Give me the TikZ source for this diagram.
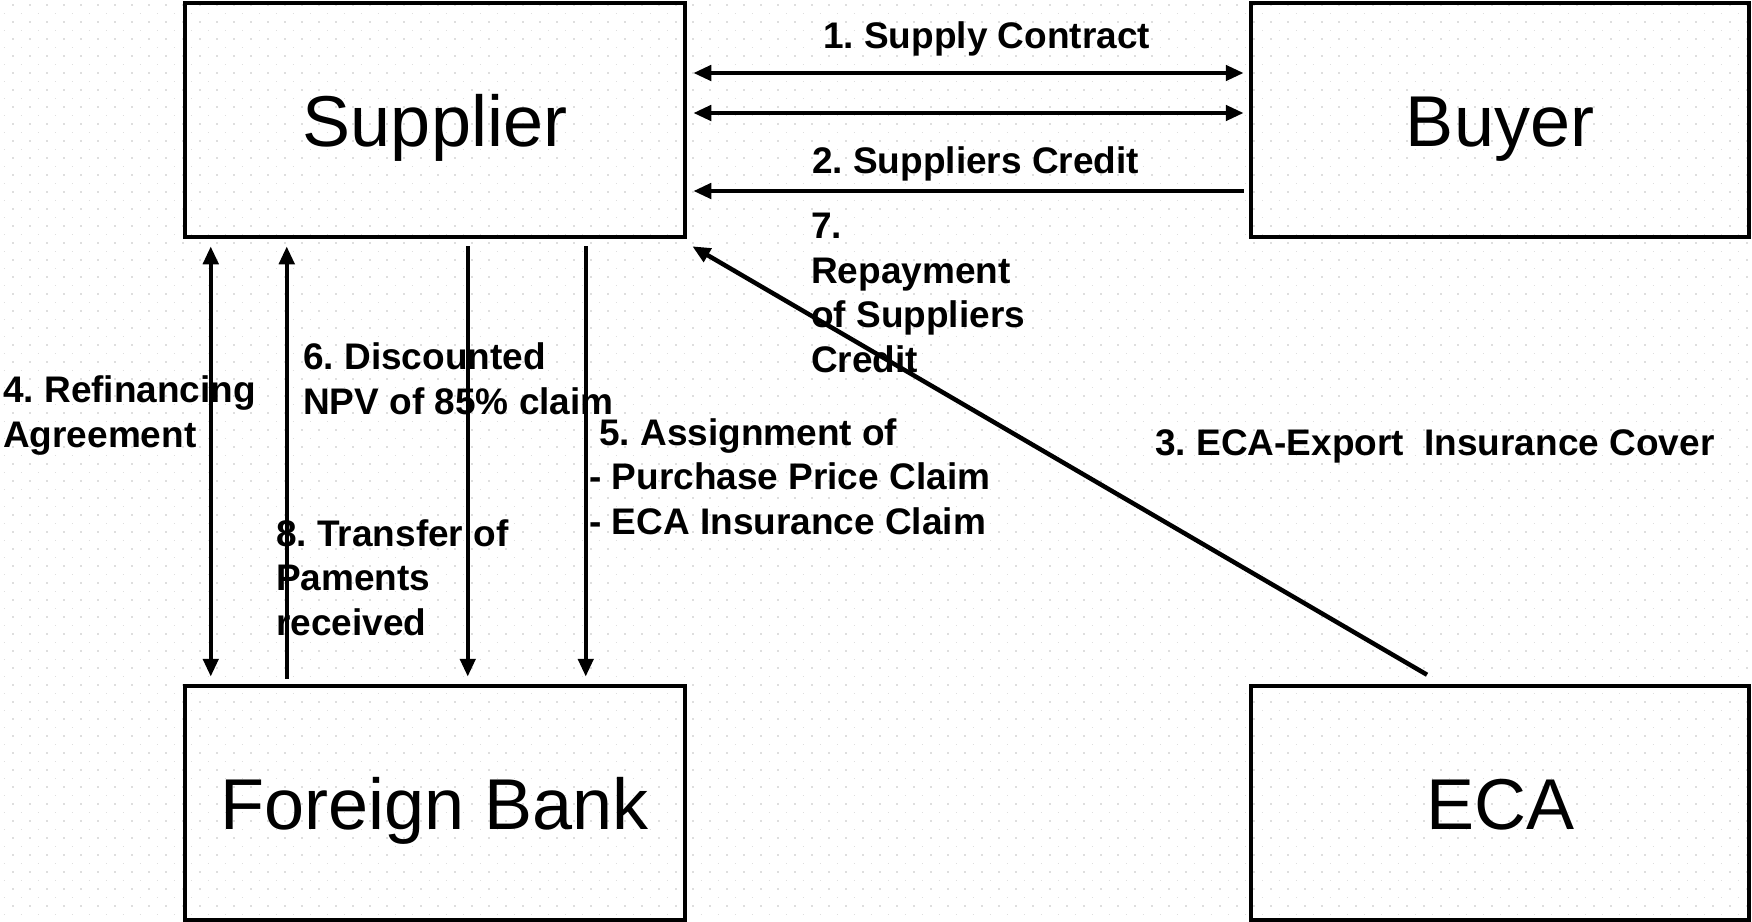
\documentclass[tikz,border=0pt]{standalone}
\usepackage{fontspec}
\setmainfont{Liberation Sans}
\usetikzlibrary{arrows.meta}
\frenchspacing
\begin{document}
\begin{tikzpicture}[x=1pt,y=-1pt,
  box/.style={draw, line width=4.5pt, minimum width=500pt, minimum height=234pt, inner sep=0pt, text height=53pt, text depth=0pt, font=\fontsize{72}{86}\selectfont},
  conn/.style={line width=4.5pt, -{Triangle[length=18pt,width=15pt]}},
  conntwo/.style={line width=4.5pt, {Triangle[length=18pt,width=15pt]}-{Triangle[length=18pt,width=15pt]}},
  lbl/.style={anchor=base west, inner sep=0pt, align=left, font=\bfseries\fontsize{37}{44.5}\selectfont},
  dotrow/.style={black!13, line width=1.6pt, dash pattern=on 1.6pt off 15.4pt}]
\useasboundingbox (0,0) rectangle (1752,921);
% faint dotted background
\foreach \k in {0,...,108}{
  \pgfmathsetmacro\yy{5+8.5*\k}
  \ifodd\k
    \draw[dotrow] (3.5,\yy) -- (1752,\yy);
  \else
    \draw[dotrow] (12,\yy) -- (1752,\yy);
  \fi
}
% boxes
\node[box] (sup) at (435,120) {Supplier};
\node[box, minimum width=498pt] (buy) at (1500,120) {Buyer};
\node[box] (fb) at (435,803) {Foreign Bank};
\node[box, minimum width=498pt] (eca) at (1500,803) {ECA};
% horizontal arrows
\draw[conntwo] ([shift={(6,-47)}]sup.east) -- ([shift={(-5,-47)}]buy.west);
\draw[conntwo] ([shift={(6,-7)}]sup.east) -- ([shift={(-5,-7)}]buy.west);
\draw[conn] ([shift={(-5,71)}]buy.west) -- ([shift={(6,71)}]sup.east);
% vertical arrows
\draw[conntwo] ([shift={(28,7)}]sup.south west) -- ([shift={(28,-7)}]fb.north west);
\draw[conn] ([shift={(104,-5)}]fb.north west) -- ([shift={(104,7)}]sup.south west);
\draw[conn] ([shift={(285,7)}]sup.south west) -- ([shift={(285,-7)}]fb.north west);
\draw[conn] ([shift={(403,7)}]sup.south west) -- ([shift={(403,-7)}]fb.north west);
% diagonal arrow
\draw[conn] ([shift={(-73,-9)}]eca.north) -- ([shift={(5,7)}]sup.south east);
% labels (anchor = baseline of last line)
\node[lbl] (l1) at (823,48) {1. Supply Contract};
\node[lbl] (l2) at (812,173) {2. Suppliers Credit};
\node[lbl] (l7) at (811,372) {7.\\Repayment\\of Suppliers\\Credit};
\node[lbl] (l6) at (303,414) {6. Discounted\\NPV of 85\% claim};
\node[lbl] (l4) at (3,447) {4. Refinancing\\Agreement};
\node[lbl] (l5) at (589,534) {\hspace*{10pt}5. Assignment of\\- Purchase Price Claim\\- ECA Insurance Claim};
\node[lbl] (l8) at (276,635) {8. Transfer of\\Paments\\received};
\node[lbl] (l3) at (1155,455) {3. ECA-Export\ \ Insurance Cover};
\end{tikzpicture}
\end{document}
